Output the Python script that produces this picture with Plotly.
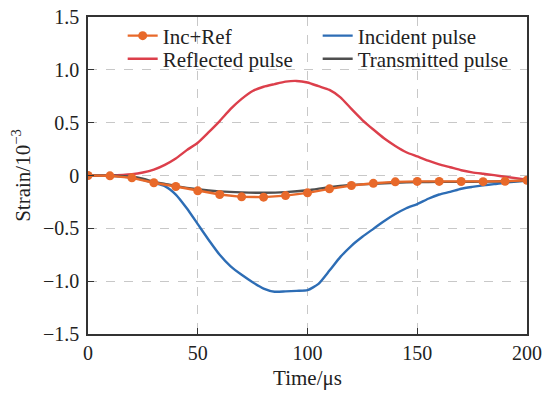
import plotly.graph_objects as go

# ---- data ----
t_sum = [0, 10, 20, 30, 40, 50, 60, 70, 80, 90, 100, 110, 120, 130, 140, 150, 160, 170, 180, 190, 200]
inc_ref = [0.0, -0.003, -0.022, -0.069, -0.104, -0.145, -0.18, -0.202, -0.205, -0.19, -0.164,
           -0.126, -0.095, -0.074, -0.06, -0.056, -0.056, -0.057, -0.058, -0.054, -0.045]

t_ref = [0, 10, 20, 25, 30, 35, 40, 45, 50, 55, 60, 65, 70, 75, 80, 85, 90, 95, 100, 105, 110,
         115, 120, 125, 130, 135, 140, 145, 150, 155, 160, 165, 170, 175, 180, 185, 190, 195, 200]
reflected = [0.0, 0.002, 0.013, 0.028, 0.055, 0.10, 0.16, 0.24, 0.31, 0.41, 0.515, 0.63, 0.725,
             0.80, 0.84, 0.865, 0.888, 0.895, 0.88, 0.845, 0.81, 0.74, 0.63, 0.525, 0.435, 0.35,
             0.28, 0.22, 0.18, 0.14, 0.105, 0.078, 0.05, 0.03, 0.016, 0.003, -0.012, -0.025, -0.04]

t_inc = [0, 10, 20, 25, 30, 35, 40, 45, 50, 55, 60, 65, 70, 75, 80, 85, 90, 95, 100, 105, 110,
         115, 120, 125, 130, 135, 140, 145, 150, 155, 160, 165, 170, 175, 180, 185, 190, 195, 200]
incident = [0.0, -0.002, -0.02, -0.04, -0.07, -0.10, -0.18, -0.31, -0.46, -0.61, -0.75, -0.86,
            -0.94, -1.01, -1.07, -1.10, -1.097, -1.092, -1.085, -1.025, -0.90, -0.77, -0.665,
            -0.58, -0.505, -0.43, -0.365, -0.31, -0.27, -0.22, -0.18, -0.155, -0.125, -0.108,
            -0.094, -0.082, -0.068, -0.058, -0.048]

t_tra = [0, 10, 20, 25, 30, 35, 40, 50, 60, 70, 80, 90, 100, 110, 120, 130, 140, 150, 160, 170, 180, 190, 200]
transmitted = [0.0, -0.002, -0.012, -0.03, -0.06, -0.08, -0.10, -0.13, -0.15, -0.16, -0.163,
               -0.157, -0.14, -0.11, -0.09, -0.079, -0.068, -0.063, -0.06, -0.06, -0.058, -0.055, -0.05]

y_ticks = [-1.5, -1.0, -0.5, 0, 0.5, 1.0, 1.5]
y_ticktext = ["\u22121.5", "\u22121.0", "\u22120.5", "0", "0.5", "1.0", "1.5"]
x_ticks = [0, 50, 100, 150, 200]

ORANGE = "#E8692A"
RED = "#DC3F4B"
BLUE = "#2D6DB5"
GRAY = "#4F4F4F"
FONT = "Liberation Serif"
TXT = "#222222"

fig = go.Figure()
fig.add_trace(go.Scatter(x=t_ref, y=reflected, mode="lines", name="Reflected pulse",
                         line=dict(color=RED, width=2.4, shape="spline", smoothing=0.6),
                         legend="legend2", legendrank=1))
fig.add_trace(go.Scatter(x=t_inc, y=incident, mode="lines", name="Incident pulse",
                         line=dict(color=BLUE, width=2.4, shape="spline", smoothing=0.6),
                         legend="legend", legendrank=2))
fig.add_trace(go.Scatter(x=t_tra, y=transmitted, mode="lines", name="Transmitted pulse",
                         line=dict(color=GRAY, width=2.4, shape="spline", smoothing=0.6),
                         legend="legend2", legendrank=2))
fig.add_trace(go.Scatter(x=t_sum, y=inc_ref, mode="lines+markers", name="Inc+Ref",
                         line=dict(color=ORANGE, width=2.4),
                         marker=dict(color=ORANGE, size=9),
                         legend="legend", legendrank=1))

axis_common = dict(
    showline=True, linecolor="#333333", linewidth=1.5, mirror=True,
    ticks="inside", ticklen=6, tickwidth=1.2, tickcolor="#333333",
    showgrid=True, gridcolor="#C8C8C8", griddash="dash", gridwidth=1,
    zeroline=False, automargin=False,
    tickfont=dict(family=FONT, size=20, color=TXT),
)

fig.update_xaxes(range=[0, 200], tickvals=x_ticks, ticklabelstandoff=0,
                 title=dict(text="Time/\u03bcs", font=dict(family=FONT, size=21, color=TXT), standoff=8),
                 **axis_common)
fig.update_yaxes(range=[-1.5, 1.5], tickvals=y_ticks, ticktext=y_ticktext, ticklabelstandoff=3,
                 title=dict(text="Strain/10<sup>\u22123</sup>", font=dict(family=FONT, size=21, color=TXT), standoff=7),
                 **axis_common)

legend_common = dict(
    orientation="h", xanchor="left", yanchor="middle",
    bgcolor="rgba(0,0,0,0)", borderwidth=0,
    font=dict(family=FONT, size=21, color=TXT),
    entrywidth=150, entrywidthmode="pixels", itemwidth=30,
)

fig.update_layout(
    width=548, height=394,
    margin=dict(l=88, r=21, t=17, b=60),
    plot_bgcolor="white", paper_bgcolor="white",
    showlegend=True,
    legend=dict(x=0.079, y=0.94, **legend_common),
    legend2=dict(x=0.079, y=0.867, **legend_common),
)

fig.write_html("out.html")
